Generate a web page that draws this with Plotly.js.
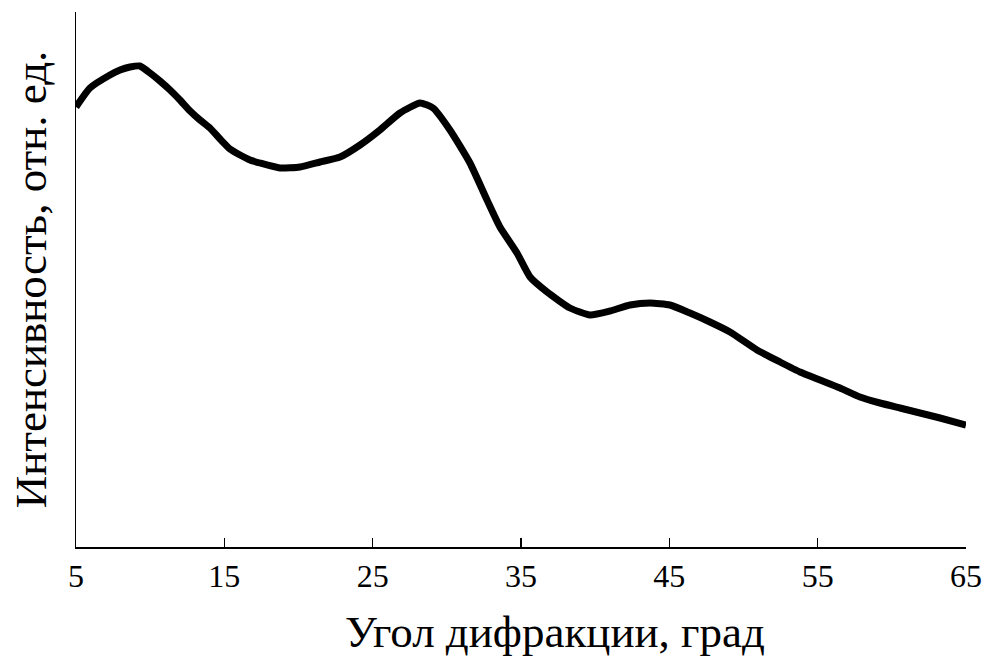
<!DOCTYPE html>
<html>
<head>
<meta charset="utf-8">
<script src="https://cdn.plot.ly/plotly-3.0.1.min.js"></script>
<style>html,body{margin:0;padding:0;background:#fff;}#chart{width:1008px;height:669px;}</style>
</head>
<body>
<div id="chart"></div>
<script>
const angle = [5.00, 5.94, 7.29, 7.97, 8.64, 9.31, 9.99, 10.66, 11.34, 12.01, 12.69, 13.36, 14.03, 14.71, 15.38, 16.06, 16.73, 17.40, 18.75, 20.10, 21.45, 22.80, 24.15, 25.49, 26.84, 28.19, 29.07, 30.21, 31.56, 32.71, 33.58, 34.73, 35.61, 36.76, 38.30, 39.65, 41.00, 42.35, 43.70, 45.04, 46.39, 47.74, 49.09, 50.91, 52.46, 53.81, 55.16, 56.51, 57.85, 59.20, 60.55, 61.90, 63.25, 65.00];
const intensity = [440, 459, 472, 477, 480, 481, 474, 466, 457, 447, 436, 427, 419, 408, 398, 392, 387, 384, 379, 380, 385, 390, 402, 417, 434, 444, 439, 417, 384, 347, 320, 294, 270, 255, 239, 232, 236, 242, 244, 242, 234, 225, 215, 197, 185, 175, 167, 159, 150, 144, 139, 134, 129, 122];
const xTicks = [5, 15, 25, 35, 45, 55, 65];
const xTitle = 'Угол дифракции, град';
const yTitle = 'Интенсивность, отн. ед.';

const font = '"Liberation Serif", "Times New Roman", serif';
Plotly.newPlot('chart', [{
  x: angle, y: intensity, type: 'scatter', mode: 'lines',
  line: {color: '#000', width: 7, shape: 'spline', smoothing: 0.5},
  hoverinfo: 'skip'
}], {
  width: 1008, height: 669,
  margin: {l: 76, r: 42, t: 12, b: 122},
  paper_bgcolor: '#fff', plot_bgcolor: '#fff',
  showlegend: false,
  font: {family: font, color: '#000'},
  xaxis: {
    range: [5, 65], tickvals: xTicks, ticktext: xTicks.map(String),
    ticks: 'inside', ticklen: 9, tickwidth: 1.5, tickcolor: '#000',
    showline: true, linecolor: '#000', linewidth: 1.5,
    showgrid: false, zeroline: false,
    tickfont: {family: font, size: 32, color: '#000'},
    title: {text: ''}
  },
  yaxis: {
    range: [0, 535], showticklabels: false, ticks: '',
    showline: true, linecolor: '#000', linewidth: 1.5,
    showgrid: false, zeroline: false,
    title: {text: yTitle, font: {family: font, size: 45, color: '#000'}, standoff: 14}
  },
  annotations: [{
    text: xTitle, xref: 'paper', yref: 'paper', x: 0.538, y: -0.159,
    xanchor: 'center', yanchor: 'middle', showarrow: false,
    font: {family: font, size: 45, color: '#000'}
  }]
}, {displayModeBar: false, staticPlot: true});
</script>
</body>
</html>
